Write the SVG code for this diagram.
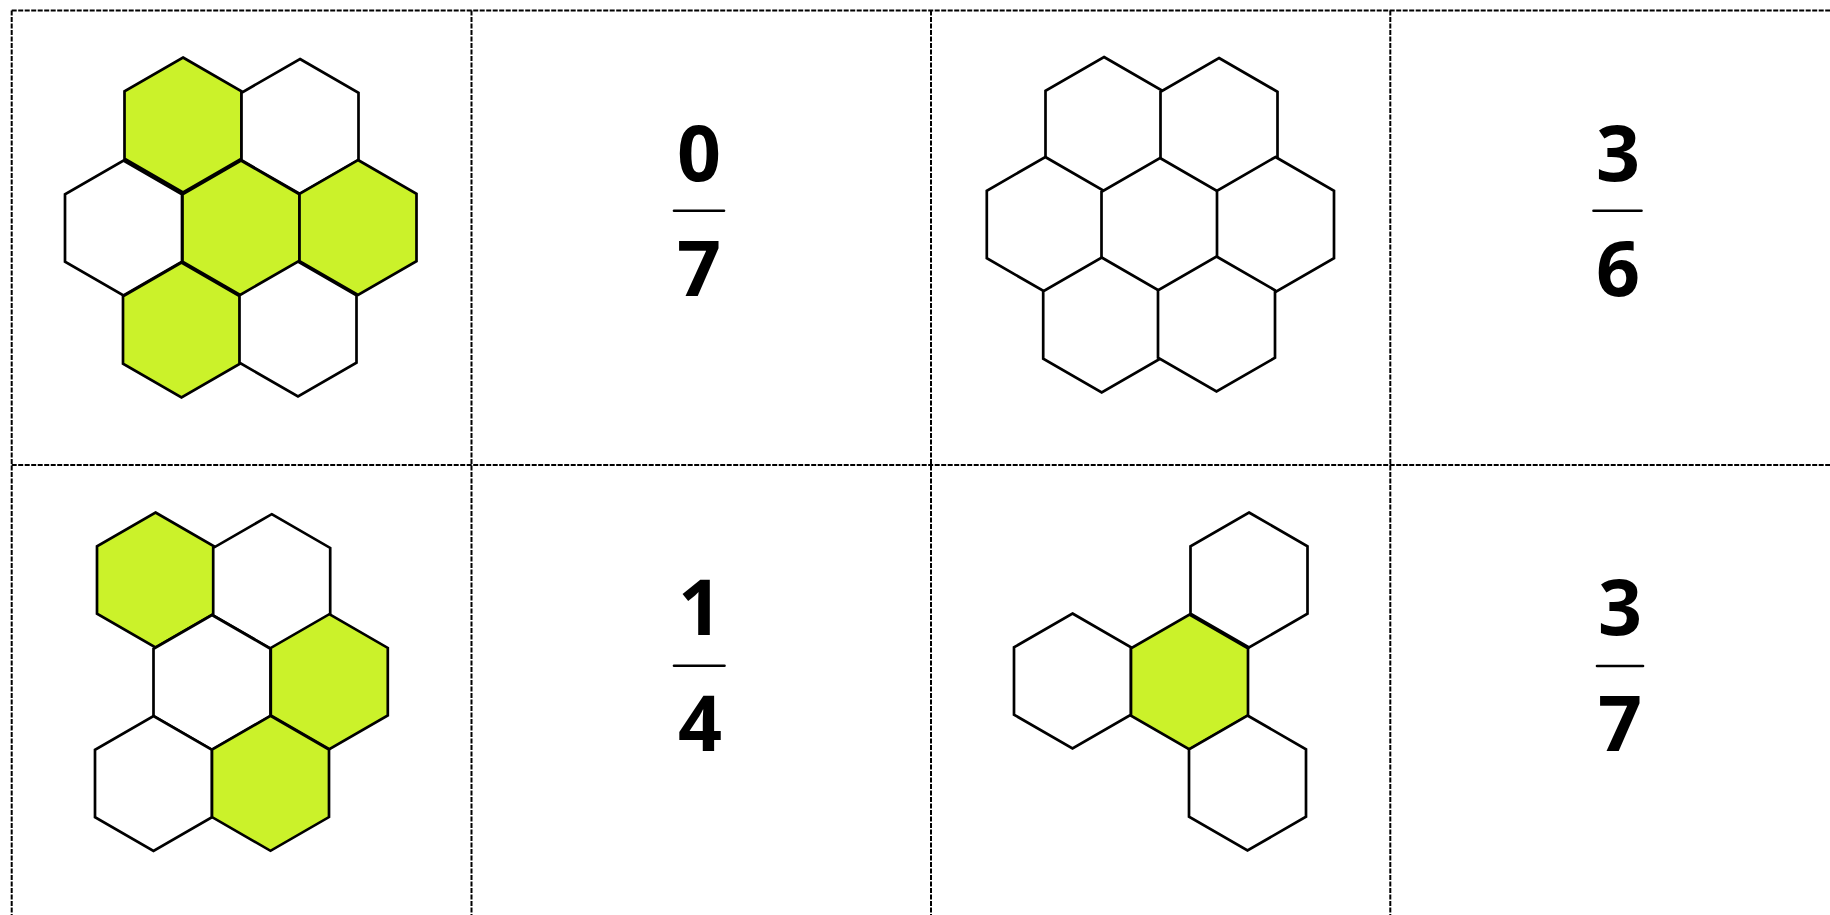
<svg xmlns="http://www.w3.org/2000/svg" xmlns:xlink="http://www.w3.org/1999/xlink" width="1830" height="915" viewBox="0 0 1830 915">
<style>
.grid{stroke:#000;stroke-width:2;stroke-dasharray:5 1.5;fill:none}
.h{stroke:#000;stroke-width:2.7;stroke-linejoin:miter}
.g{fill:#cbf22a}
.w{fill:#fff}
.num{font-family:"Open Sans","Liberation Sans",sans-serif;font-weight:bold;font-size:77px;text-anchor:middle;fill:#000}
.bar{stroke:#000;stroke-width:2.6;stroke-linecap:round}
</style>
<defs>
<polygon id="hex" points="0,-67.5 58.5,-33.75 58.5,33.75 0,67.5 -58.5,33.75 -58.5,-33.75"/>
</defs>
<rect width="1830" height="915" fill="#fff"/>
<g id="grid">
<line class="grid" x1="11.7" y1="10.5" x2="1830" y2="10.5"/>
<line class="grid" x1="11.7" y1="465" x2="1830" y2="465"/>
<line class="grid" x1="11.7" y1="10.5" x2="11.7" y2="915"/>
<line class="grid" x1="471.5" y1="10.5" x2="471.5" y2="915"/>
<line class="grid" x1="931" y1="10.5" x2="931" y2="915"/>
<line class="grid" x1="1390.3" y1="10.5" x2="1390.3" y2="915"/>
</g>
<g id="panel1">
<use xlink:href="#hex" class="h g" x="183" y="125"/>
<use xlink:href="#hex" class="h w" x="300" y="126.5"/>
<use xlink:href="#hex" class="h w" x="123.5" y="228"/>
<use xlink:href="#hex" class="h g" x="241" y="228"/>
<use xlink:href="#hex" class="h g" x="358" y="227.5"/>
<use xlink:href="#hex" class="h g" x="181.5" y="330"/>
<use xlink:href="#hex" class="h w" x="298" y="329"/>
</g>
<g id="panel2">
<text class="num" x="699" y="181">0</text>
<line class="bar" x1="674" y1="210.7" x2="724" y2="210.7"/>
<text class="num" x="699" y="296">7</text>
</g>
<g id="panel3">
<use xlink:href="#hex" class="h w" x="1104" y="124.5"/>
<use xlink:href="#hex" class="h w" x="1219" y="125.5"/>
<use xlink:href="#hex" class="h w" x="1045.3" y="224.5"/>
<use xlink:href="#hex" class="h w" x="1160" y="225.5"/>
<use xlink:href="#hex" class="h w" x="1275.5" y="224.5"/>
<use xlink:href="#hex" class="h w" x="1101.7" y="325"/>
<use xlink:href="#hex" class="h w" x="1216.5" y="324"/>
</g>
<g id="panel4">
<text class="num" x="1618" y="181">3</text>
<line class="bar" x1="1593.5" y1="210.7" x2="1641.5" y2="210.7"/>
<text class="num" x="1618" y="296">6</text>
</g>
<g id="panel5">
<use xlink:href="#hex" class="h g" x="155.5" y="580"/>
<use xlink:href="#hex" class="h w" x="271.7" y="581.7"/>
<use xlink:href="#hex" class="h w" x="212" y="682.5"/>
<use xlink:href="#hex" class="h g" x="329.3" y="681.7"/>
<use xlink:href="#hex" class="h w" x="153.5" y="783.5"/>
<use xlink:href="#hex" class="h g" x="270.5" y="783.3"/>
</g>
<g id="panel6">
<text class="num" x="700" y="635">1</text>
<line class="bar" x1="674" y1="665.7" x2="724.5" y2="665.7"/>
<text class="num" x="700" y="751">4</text>
</g>
<g id="panel7">
<use xlink:href="#hex" class="h w" x="1249" y="580"/>
<use xlink:href="#hex" class="h w" x="1072.5" y="681"/>
<use xlink:href="#hex" class="h g" x="1189.5" y="682"/>
<use xlink:href="#hex" class="h w" x="1247.5" y="783"/>
</g>
<g id="panel8">
<text class="num" x="1620" y="635">3</text>
<line class="bar" x1="1597" y1="666" x2="1643" y2="666"/>
<text class="num" x="1620" y="751">7</text>
</g>
</svg>
